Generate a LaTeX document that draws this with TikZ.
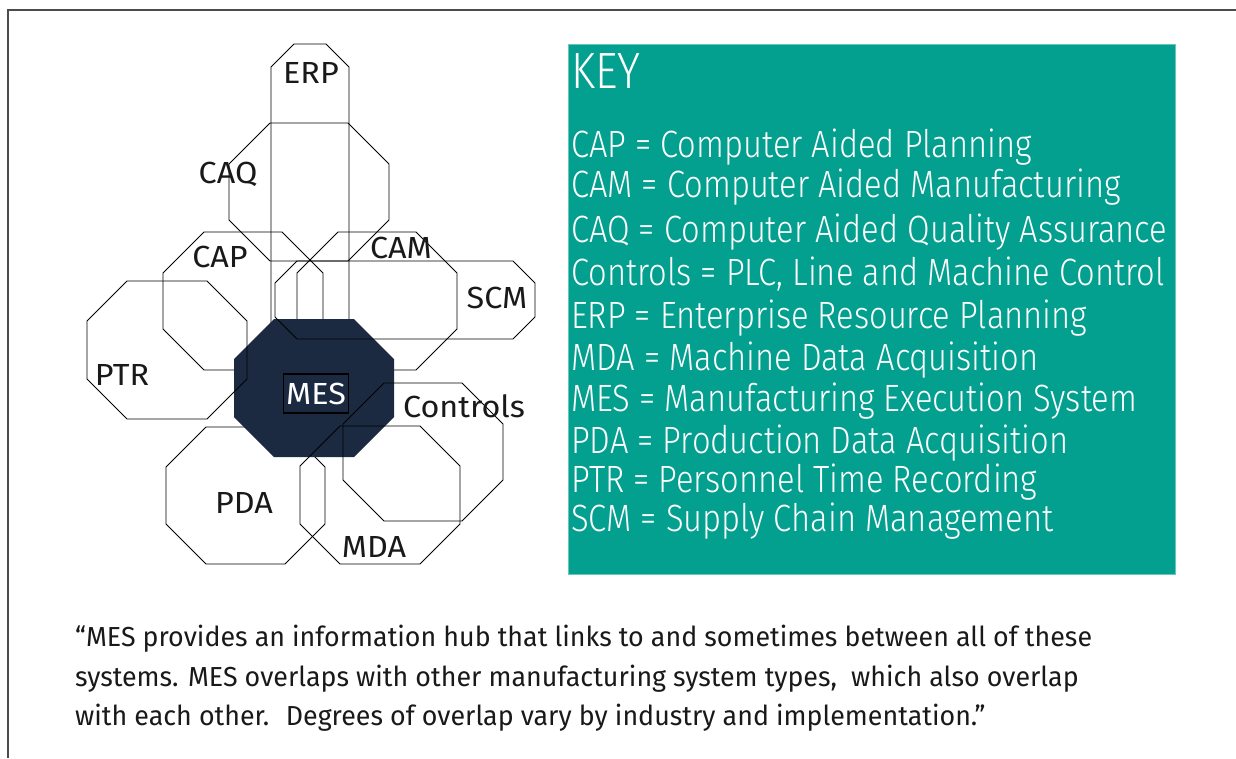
\documentclass[tikz,border=0pt]{standalone}
\usepackage{fontspec}
\setmainfont{Fira Sans}
\IfFontExistsTF{Fira Sans Light}
  {\newfontfamily\keyfont{Fira Sans Light}[FakeStretch=0.86]}
  {\newfontfamily\keyfont{Fira Sans}[FakeStretch=0.84]}
\newfontfamily\quotefont{Fira Sans}[FakeStretch=0.975]
\newfontfamily\labelfont{Fira Sans}[FakeStretch=1.06]
\usetikzlibrary{positioning}

\definecolor{mesnavy}{HTML}{1B2A41}
\definecolor{keyteal}{HTML}{03A08F}

\tikzset{
  sysline/.style={draw=black,line width=0.75pt},
  mesfill/.style={fill=mesnavy},
  syslabel/.style={font=\labelfont\fontsize{30.5}{36}\selectfont,text=black!90,inner sep=0pt,anchor=base},
  meslabel/.style={font=\labelfont\fontsize{30.5}{36}\selectfont,text=white,fill=mesnavy,draw=black,
    line width=1.2pt,inner xsep=3pt,minimum height=39pt},
  keybox/.style={fill=keyteal,draw=keyteal!60!white,line width=0.6pt,anchor=north west,
    minimum width=607pt,minimum height=530pt,inner sep=0pt},
  keytitle/.style={font=\keyfont\fontsize{51}{60}\selectfont,text=white,inner sep=0pt,anchor=base west},
  keyline/.style={font=\keyfont\fontsize{38}{44}\selectfont,text=white,inner sep=0pt,anchor=base west},
  quoteline/.style={font=\quotefont\fontsize{27.5}{33}\selectfont,text=black!90,inner sep=0pt,anchor=base west},
  frameline/.style={draw=black!70,line width=1.5pt}
}

% octagon: [style]{left}{top}{right}{bottom}{corner}
\newcommand{\sysoctagon}[6][sysline]{%
  \path[#1] (#2+#6,#3) -- (#4-#6,#3) -- (#4,#3+#6) -- (#4,#5-#6)
    -- (#4-#6,#5) -- (#2+#6,#5) -- (#2,#5-#6) -- (#2,#3+#6) -- cycle;}

\begin{document}
\begin{tikzpicture}[x=1pt,y=-1pt]
    \useasboundingbox (0,0) rectangle (1236,758);
    \draw[frameline] (8,758) -- (8,10) -- (1236,10);

    % systems behind MES
    \sysoctagon{271}{44}{349}{380}{23}   % ERP
    \sysoctagon{229}{123}{389}{261}{41}  % CAQ
    \sysoctagon{163}{232}{323}{370}{41}  % CAP
    \sysoctagon{297}{232}{457}{370}{41}  % CAM
    \sysoctagon{166}{427}{325}{564}{40}  % PDA
    % the hub
    \sysoctagon[mesfill]{234}{319}{394}{457}{40}
    % systems in front of MES
    \sysoctagon{275}{261}{535}{339}{22}  % SCM
    \sysoctagon{87}{281}{247}{419}{40}   % PTR
    \sysoctagon{343}{383}{503}{521}{41}  % Controls
    \sysoctagon{300}{426}{460}{564}{40}  % MDA

    \node[syslabel] (erp) at (311,83) {ERP};
    \node[syslabel] (caq) at (228,183) {CAQ};
    \node[syslabel] (cap) at (220,267) {CAP};
    \node[syslabel] (cam) at (401,258) {CAM};
    \node[syslabel] (scm) at (497,308) {SCM};
    \node[syslabel] (ptr) at (122,385) {PTR};
    \node[syslabel] (controls) at (464,417) {Controls};
    \node[syslabel] (pda) at (244,513) {PDA};
    \node[syslabel] (mda) at (374,557) {MDA};
    \node[meslabel] (mes) at (316,393.5) {MES};

    % key
    \node[keybox] (key) at (568,44) {};
    \node[keytitle] (keyhead) at (571,88) {KEY};
    \foreach \abbr/\full/\y [count=\i] in {CAP/Computer Aided Planning/157,
        CAM/Computer Aided Manufacturing/197, CAQ/Computer Aided Quality Assurance/242,
        Controls/{PLC, Line and Machine Control}/285, ERP/Enterprise Resource Planning/328,
        MDA/Machine Data Acquisition/370, MES/Manufacturing Execution System/411,
        PDA/Production Data Acquisition/453, PTR/Personnel Time Recording/492,
        SCM/Supply Chain Management/531}
        \node[keyline] (key\i) at (571,\y) {\abbr{} = \full};

    % quote
    \foreach \txt/\y [count=\i] in {{“MES provides an information hub that links to and sometimes between all of these}/646,
        {systems. MES overlaps with other manufacturing system types,~ which also overlap}/686,
        {with each other.~ Degrees of overlap vary by industry and implementation.”}/725}
        \node[quoteline] (quote\i) at (75,\y) {\txt};
\end{tikzpicture}
\end{document}
